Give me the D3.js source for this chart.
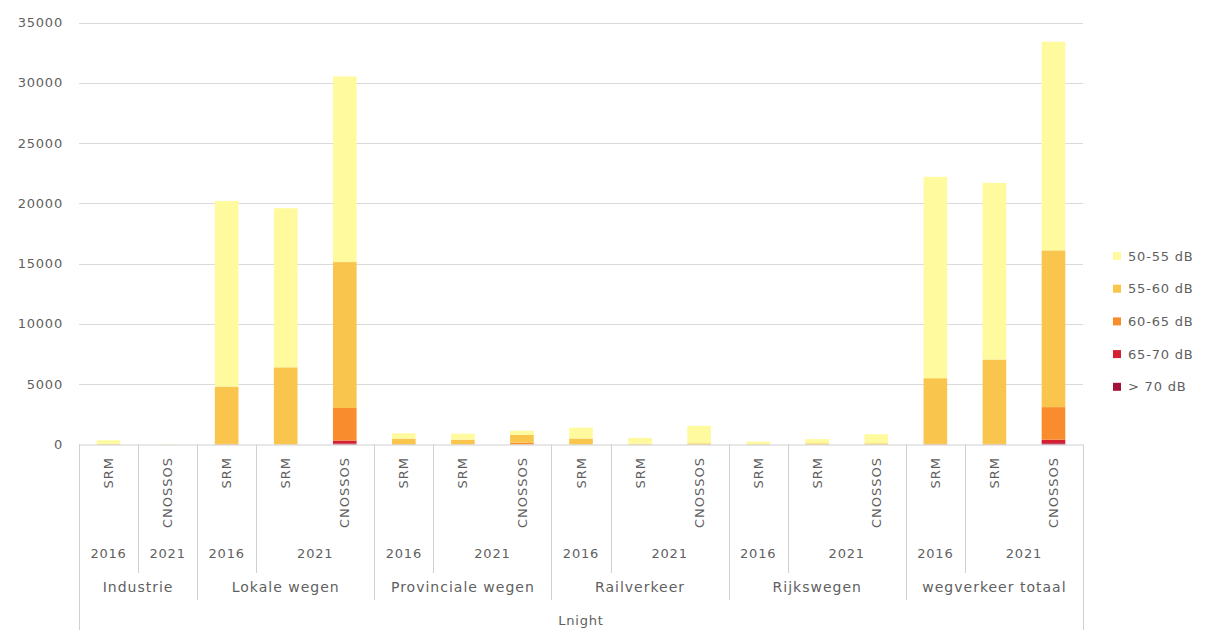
<!DOCTYPE html>
<html>
<head>
<meta charset="utf-8">
<script src="https://cdn.jsdelivr.net/npm/d3@7"></script>
<style>
  body { margin: 0; background: #fff; }
  text { font-family: "DejaVu Sans", sans-serif; fill: #5f5f5f; }
</style>
</head>
<body>
<div class="chart_area"></div>
<script>
// category levels (one entry per bar slot)
var groups = ["Industrie", "Lokale wegen", "Provinciale wegen", "Railverkeer", "Rijkswegen", "wegverkeer totaal"];
var slotGroup = [0, 0, 1, 1, 1, 2, 2, 2, 3, 3, 3, 4, 4, 4, 5, 5, 5];
var slotYear = ["2016", "2021", "2016", "2021", "2021", "2016", "2021", "2021", "2016", "2021", "2021", "2016", "2021", "2021", "2016", "2021", "2021"];
var slotMethod = ["SRM", "CNOSSOS", "SRM", "SRM", "CNOSSOS", "SRM", "SRM", "CNOSSOS", "SRM", "SRM", "CNOSSOS", "SRM", "SRM", "CNOSSOS", "SRM", "SRM", "CNOSSOS"];

// series, stacked bottom to top
var seriesNames = ["> 70 dB", "65-70 dB", "60-65 dB", "55-60 dB", "50-55 dB"];
var seriesColors = ["#a3123a", "#d42030", "#f98c2c", "#f9c54c", "#fffa9e"];

var v_70plus = [0, 0, 0, 0, 80, 0, 0, 0, 0, 0, 0, 0, 0, 0, 0, 0, 100];
var v_65_70 = [0, 0, 0, 0, 250, 0, 0, 0, 0, 0, 0, 0, 0, 0, 0, 0, 300];
var v_60_65 = [0, 0, 50, 0, 2700, 30, 0, 150, 0, 0, 0, 0, 0, 0, 50, 50, 2700];
var v_55_60 = [50, 0, 4750, 6400, 12100, 450, 400, 650, 500, 50, 100, 50, 100, 100, 5450, 7000, 13000];
var v_50_55 = [300, 20, 15400, 13200, 15400, 450, 500, 350, 900, 500, 1450, 200, 350, 750, 16700, 14650, 17300];

var yTicks = [0, 5000, 10000, 15000, 20000, 25000, 30000, 35000];

var W = 1210, H = 630;
var plot = {left: 79, right: 1083, top: 22.5, base: 444.5};

var svg = d3.select(".chart_area")
  .append("svg")
  .attr("width", W)
  .attr("height", H);

var idx = d3.range(slotMethod.length);

var x = d3.scaleBand()
    .domain(idx)
    .range([plot.left, plot.right])
    .paddingInner(0.6)
    .paddingOuter(0.3);

var step = x.step();
var slotLeft = function(i) { return plot.left + i * step; };

var y = d3.scaleLinear()
    .domain([0, 35000])
    .range([plot.base, plot.top]);

// gridlines
svg.append("g")
  .selectAll("line")
  .data(yTicks.filter(function(d) { return d > 0; }))
  .enter()
  .append("line")
    .attr("x1", plot.left)
    .attr("x2", plot.right)
    .attr("y1", function(d) { return Math.round(y(d)) + 0.5; })
    .attr("y2", function(d) { return Math.round(y(d)) + 0.5; })
    .style("stroke", "#dadada")
    .style("stroke-width", 1.2);

// y labels
svg.append("g")
  .selectAll("text")
  .data(yTicks)
  .enter()
  .append("text")
    .attr("x", 63)
    .attr("y", function(d) { return y(d); })
    .attr("dy", "0.35em")
    .attr("text-anchor", "end")
    .style("font-size", "13px")
    .style("letter-spacing", "0.8px")
    .text(function(d) { return d; });

// stacked bars
var rows = idx.map(function(i) {
  return {
    i: i,
    "> 70 dB": v_70plus[i],
    "65-70 dB": v_65_70[i],
    "60-65 dB": v_60_65[i],
    "55-60 dB": v_55_60[i],
    "50-55 dB": v_50_55[i]
  };
});

var stacked = d3.stack().keys(seriesNames)(rows);

svg.append("g")
  .selectAll("g")
  .data(stacked)
  .enter()
  .append("g")
    .style("fill", function(d, k) { return seriesColors[k]; })
  .selectAll("rect")
  .data(function(d) { return d; })
  .enter()
  .append("rect")
    .attr("x", function(d) { return x(d.data.i); })
    .attr("width", x.bandwidth())
    .attr("y", function(d) { return y(d[1]); })
    .attr("height", function(d) { return y(d[0]) - y(d[1]); });

// category axis (multi level)
var axis = svg.append("g");
var lineColor = "#d0d0d0";

axis.append("line")
  .attr("x1", plot.left).attr("x2", plot.right)
  .attr("y1", plot.base + 0.5).attr("y2", plot.base + 0.5)
  .style("stroke", lineColor);

// method labels, rotated
axis.selectAll("text.method")
  .data(idx)
  .enter()
  .append("text")
    .attr("class", "method")
    .attr("transform", function(i) { return "translate(" + (x(i) + x.bandwidth() / 2) + ",457) rotate(-90)"; })
    .attr("dy", "0.35em")
    .attr("text-anchor", "end")
    .style("font-size", "13px")
    .style("letter-spacing", "1px")
    .text(function(i) { return slotMethod[i]; });

// year runs and group runs
var yearRuns = [], groupRuns = [];
idx.forEach(function(i) {
  var yr = yearRuns[yearRuns.length - 1];
  if (yr && slotGroup[yr.end] === slotGroup[i] && slotYear[yr.end] === slotYear[i]) yr.end = i;
  else yearRuns.push({start: i, end: i, label: slotYear[i]});
  var gr = groupRuns[groupRuns.length - 1];
  if (gr && slotGroup[gr.end] === slotGroup[i]) gr.end = i;
  else groupRuns.push({start: i, end: i, label: groups[slotGroup[i]]});
});

axis.selectAll("text.year")
  .data(yearRuns)
  .enter()
  .append("text")
    .attr("x", function(d) { return (slotLeft(d.start) + slotLeft(d.end + 1)) / 2; })
    .attr("y", 553)
    .attr("dy", "0.35em")
    .attr("text-anchor", "middle")
    .style("font-size", "13px")
    .style("letter-spacing", "0.8px")
    .text(function(d) { return d.label; });

axis.selectAll("text.group")
  .data(groupRuns)
  .enter()
  .append("text")
    .attr("x", function(d) { return (slotLeft(d.start) + slotLeft(d.end + 1)) / 2; })
    .attr("y", 587)
    .attr("dy", "0.35em")
    .attr("text-anchor", "middle")
    .style("font-size", "14px")
    .style("letter-spacing", "1px")
    .text(function(d) { return d.label; });

// separators: year boundaries inside a group
var yearEdges = yearRuns.filter(function(d) {
  return d.start > 0 && slotGroup[d.start - 1] === slotGroup[d.start];
}).map(function(d) { return d.start; });

axis.selectAll("line.yr")
  .data(yearEdges)
  .enter()
  .append("line")
    .attr("x1", function(i) { return Math.round(slotLeft(i)) + 0.5; })
    .attr("x2", function(i) { return Math.round(slotLeft(i)) + 0.5; })
    .attr("y1", plot.base).attr("y2", 573)
    .style("stroke", lineColor);

var groupEdges = groupRuns.filter(function(d) { return d.start > 0; }).map(function(d) { return d.start; });

axis.selectAll("line.gr")
  .data(groupEdges)
  .enter()
  .append("line")
    .attr("x1", function(i) { return Math.round(slotLeft(i)) + 0.5; })
    .attr("x2", function(i) { return Math.round(slotLeft(i)) + 0.5; })
    .attr("y1", plot.base).attr("y2", 600)
    .style("stroke", lineColor);

axis.selectAll("line.outer")
  .data([0, idx.length])
  .enter()
  .append("line")
    .attr("x1", function(i) { return Math.round(slotLeft(i)) + 0.5; })
    .attr("x2", function(i) { return Math.round(slotLeft(i)) + 0.5; })
    .attr("y1", plot.base).attr("y2", H)
    .style("stroke", lineColor);

axis.append("text")
  .attr("x", (plot.left + plot.right) / 2)
  .attr("y", 620)
  .attr("dy", "0.35em")
  .attr("text-anchor", "middle")
  .style("font-size", "13px")
  .style("letter-spacing", "0.8px")
  .text("Lnight");

// legend, top entry first
var legendItems = seriesNames.slice().reverse();
var legend = svg.append("g")
  .selectAll("g")
  .data(legendItems)
  .enter()
  .append("g")
    .attr("transform", function(d, k) { return "translate(1113," + (256 + k * 32.7) + ")"; });

legend.append("rect")
  .attr("x", 0)
  .attr("y", -4)
  .attr("width", 8)
  .attr("height", 8)
  .style("fill", function(d) { return seriesColors[seriesNames.indexOf(d)]; });

legend.append("text")
  .attr("x", 15)
  .attr("dy", "0.35em")
  .style("font-size", "13px")
  .style("letter-spacing", "0.8px")
  .text(function(d) { return d; });
</script>
</body>
</html>
